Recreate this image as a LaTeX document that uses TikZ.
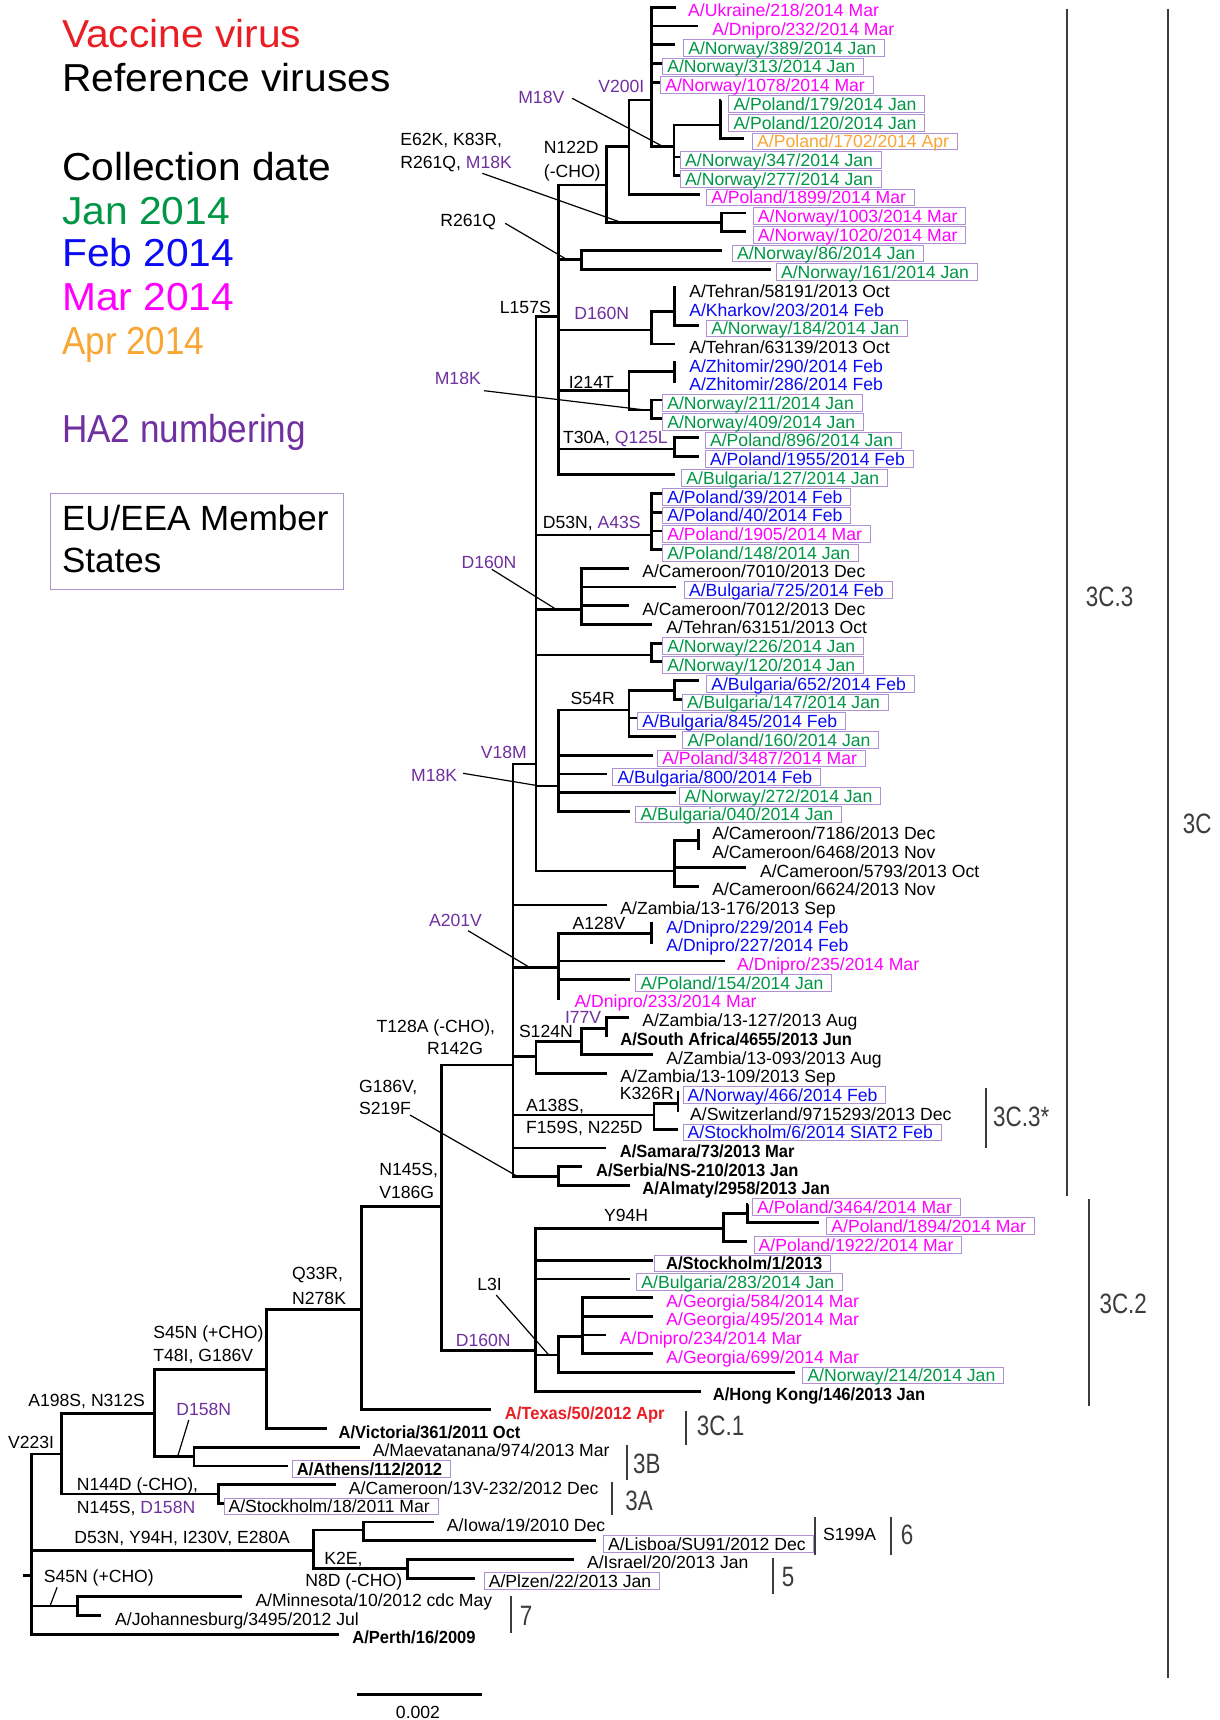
\documentclass[tikz,border=0pt]{standalone}
\usepackage{fontspec}
\setmainfont{Liberation Sans}
\newfontfamily\refbfont[FakeStretch=0.94]{Liberation Sans}
\usepackage{graphicx}
\definecolor{vgreen}{RGB}{0,150,70}
\definecolor{vblue}{RGB}{10,10,245}
\definecolor{vmag}{RGB}{255,0,255}
\definecolor{vorange}{RGB}{248,166,52}
\definecolor{vpurple}{RGB}{112,48,160}
\definecolor{vred}{RGB}{232,30,36}
\definecolor{boxpurple}{RGB}{175,145,210}
\definecolor{cladegray}{RGB}{60,60,60}
\newcommand{\cladetxt}[1]{\scalebox{0.8}[1]{#1}}
\newcommand{\widetxt}[1]{\scalebox{1.045}[1]{#1}}
\tikzset{
 tree/.style={line width=1.4pt, line join=miter, line cap=butt},
 ptr/.style={line width=0.6pt},
 leaf/.style={font=\fontsize{8.8}{9}\selectfont, anchor=west, inner xsep=2.3pt, inner ysep=0pt, text height=6.3pt, text depth=0pt, minimum height=8.35pt, yshift=-1.6pt},
 boxed/.style={draw=boxpurple, line width=0.5pt, execute at end node={\kern1.8pt}},
 refb/.style={font=\fontsize{8.8}{9}\selectfont\refbfont\bfseries},
 mut/.style={font=\fontsize{8.8}{9}\selectfont, anchor=west, inner sep=0pt, text height=6.3pt, text depth=0pt},
 legend/.style={font=\fontsize{19.5}{22}\selectfont, anchor=base west, inner sep=0pt},
 legendb/.style={font=\fontsize{17.5}{20}\selectfont, anchor=base west, inner sep=0pt},
 cbar/.style={line width=1pt, draw=cladegray},
 clade/.style={font=\fontsize{14}{16}\selectfont, text=cladegray, anchor=west, inner sep=0pt, text height=10pt, text depth=0pt},
}
\begin{document}
\begin{tikzpicture}[x=0.5pt,y=-0.5pt]
\fill[white] (0,0) rectangle (1220,1720);
\useasboundingbox (0,0) rectangle (1220,1720);

% ---------- legend ----------
\node[legend, text=vred] (lg1) at (61.7,47.8) {\widetxt{Vaccine virus}};
\node[legend] (lg2) at (61.7,91.8) {\widetxt{Reference viruses}};
\node[legend] (lg3) at (61.7,180) {\widetxt{Collection date}};
\node[legend, text=vgreen] (lg4) at (61.7,224) {\widetxt{Jan 2014}};
\node[legend, text=vblue] (lg5) at (61.7,266) {\widetxt{Feb 2014}};
\node[legend, text=vmag] (lg6) at (61.7,310) {\widetxt{Mar 2014}};
\node[legend, text=vorange] (lg7) at (61.7,354) {\scalebox{0.9}[1]{Apr 2014}};
\node[legend, text=vpurple] (lg8) at (61.7,442) {\scalebox{0.9}[1]{HA2 numbering}};
\draw[boxpurple, line width=0.6pt] (50.7,493.7) rectangle (343.3,589.4);
\node[legendb] (lg9) at (61.7,530) {EU/EEA Member};
\node[legendb] (lg10) at (61.7,572) {States};

% ---------- internal nodes ----------
\coordinate (nC) at (720.3,125);
\coordinate (nB) at (674,146.7);
\coordinate (nA) at (651.8,100);
\coordinate (nD) at (628.9,146.7);
\coordinate (nF) at (721.5,222.7);
\coordinate (nE) at (606.7,185);
\coordinate (nH) at (581.8,259.3);
\coordinate (nI1) at (674.8,311.7);
\coordinate (nI) at (651.8,330);
\coordinate (nJ1) at (674.8,371.7);
\coordinate (nJ2) at (651.8,410);
\coordinate (nJ) at (628.9,390.7);
\coordinate (nK) at (674.8,449);
\coordinate (nG) at (558.8,316.7);
\coordinate (nDN) at (651.8,535);
\coordinate (nN) at (581.8,609.3);
\coordinate (nNW) at (651.8,655);
\coordinate (nQ1) at (674.8,690.7);
\coordinate (nQ) at (628.9,710);
\coordinate (nP) at (558.8,786);
\coordinate (nR1) at (698.5,840.7);
\coordinate (nR) at (674.8,871);
\coordinate (nM) at (535.9,764);
\coordinate (nS1) at (651.8,933.3);
\coordinate (nS) at (558.8,967.7);
\coordinate (nW) at (606.7,1028.3);
\coordinate (nV) at (581.8,1041.7);
\coordinate (nU) at (535.9,1056.7);
\coordinate (nX1) at (677.9,1103.3);
\coordinate (nX) at (654,1115);
\coordinate (nSB) at (558.3,1176.7);
\coordinate (nO) at (512.9,1065);
\coordinate (nBB1) at (747.3,1213.3);
\coordinate (nBB) at (723.4,1228.3);
\coordinate (nLL1) at (582.2,1336.7);
\coordinate (nLL) at (558.3,1355);
\coordinate (nAA) at (535.4,1350.7);
\coordinate (nT) at (441.1,1206.7);
\coordinate (nZ) at (361.2,1309.3);
\coordinate (nAB) at (266.3,1369.3);
\coordinate (nDB) at (193.9,1456.7);
\coordinate (nAC) at (154.6,1413.3);
\coordinate (nA3) at (218.4,1494);
\coordinate (nAD) at (61.2,1454);
\coordinate (nAF1) at (363.3,1530);
\coordinate (nAF2) at (407.1,1568.3);
\coordinate (nAF) at (313.8,1550.7);
\coordinate (nAG) at (77.6,1606);
\coordinate (nAE) at (31.6,1575.7);
\coordinate (root) at (23,1575.7);

% ---------- tips ----------
\coordinate (t1) at (675.5,7.3);
\coordinate (t2) at (697.7,26.0);
\coordinate (t3) at (674.8,44.7);
\coordinate (t4) at (662.2,63.4);
\coordinate (t5) at (660.2,82.1);
\coordinate (t6) at (720.8,100.8);
\coordinate (t7) at (720.8,119.5);
\coordinate (t8) at (744.4,138.2);
\coordinate (t9) at (680,156.9);
\coordinate (t10) at (680,175.6);
\coordinate (t11) at (700.4,194.3);
\coordinate (t12) at (746.3,213.0);
\coordinate (t13) at (746.3,231.7);
\coordinate (t14) at (721.5,250.4);
\coordinate (t15) at (770.5,269.1);
\coordinate (t16) at (675.3,287.8);
\coordinate (t17) at (675.3,306.5);
\coordinate (t18) at (698.5,325.2);
\coordinate (t19) at (674.8,343.9);
\coordinate (t20) at (675.3,362.6);
\coordinate (t21) at (675.3,381.3);
\coordinate (t22) at (662.2,400.0);
\coordinate (t23) at (662.2,418.7);
\coordinate (t24) at (698.5,437.4);
\coordinate (t25) at (698.5,456.1);
\coordinate (t26) at (674.8,474.8);
\coordinate (t27) at (662.2,493.5);
\coordinate (t28) at (662.2,512.2);
\coordinate (t29) at (662.2,530.9);
\coordinate (t30) at (662.2,549.6);
\coordinate (t31) at (628.9,568.3);
\coordinate (t32) at (675.5,587.0);
\coordinate (t33) at (628.9,605.7);
\coordinate (t34) at (651.8,624.4);
\coordinate (t35) at (662.2,643.1);
\coordinate (t36) at (662.2,661.8);
\coordinate (t37) at (698.5,680.5);
\coordinate (t38) at (682,699.2);
\coordinate (t39) at (637.3,717.9);
\coordinate (t40) at (675.5,736.6);
\coordinate (t41) at (652.6,755.3);
\coordinate (t42) at (606.7,774.0);
\coordinate (t43) at (675.5,792.7);
\coordinate (t44) at (629.6,811.4);
\coordinate (t45) at (699,830.1);
\coordinate (t46) at (699,848.8);
\coordinate (t47) at (746.3,867.5);
\coordinate (t48) at (698.5,886.2);
\coordinate (t49) at (606.7,904.9);
\coordinate (t50) at (652.3,923.6);
\coordinate (t51) at (652.3,942.3);
\coordinate (t52) at (724.5,961.0);
\coordinate (t53) at (629.6,979.7);
\coordinate (t54) at (559.3,998.4);
\coordinate (t55) at (628.9,1017.1);
\coordinate (t56) at (607.2,1035.8);
\coordinate (t57) at (652.6,1054.5);
\coordinate (t58) at (606.7,1073.2);
\coordinate (t59) at (678.4,1091.9);
\coordinate (t60) at (678.4,1110.6);
\coordinate (t61) at (677.9,1129.3);
\coordinate (t62) at (606.1,1148.0);
\coordinate (t63) at (582.2,1166.7);
\coordinate (t64) at (630.1,1185.4);
\coordinate (t65) at (747.8,1204.1);
\coordinate (t66) at (819.1,1222.8);
\coordinate (t67) at (747.3,1241.5);
\coordinate (t68) at (653,1260.2);
\coordinate (t69) at (630.1,1278.9);
\coordinate (t70) at (653,1297.6);
\coordinate (t71) at (653,1316.3);
\coordinate (t72) at (606.1,1335.0);
\coordinate (t73) at (653,1353.7);
\coordinate (t74) at (795.2,1372.4);
\coordinate (t75) at (701,1391.1);
\coordinate (t76) at (490.8,1409.8);
\coordinate (t77) at (326.5,1428.5);
\coordinate (t78) at (359.7,1447.2);
\coordinate (t79) at (288.3,1465.9);
\coordinate (t80) at (335.7,1484.6);
\coordinate (t81) at (223.5,1503.3);
\coordinate (t82) at (433.7,1522.0);
\coordinate (t83) at (595.9,1540.7);
\coordinate (t84) at (574,1559.4);
\coordinate (t85) at (474.5,1578.1);
\coordinate (t86) at (242.3,1596.8);
\coordinate (t87) at (101,1615.5);
\coordinate (t88) at (339.3,1634.2);

% ---------- branches ----------
\draw[tree] (nC) |- (t6) (nC) |- (t7) (nC) |- (t8);
\draw[tree] (nB) |- (nC) (nB) |- (t9) (nB) |- (t10);
\draw[tree] (nA) |- (t1) (nA) |- (t2) (nA) |- (t3) (nA) |- (t4) (nA) |- (t5) (nA) |- (nB);
\draw[tree] (nD) |- (nA) (nD) |- (t11);
\draw[tree] (nF) |- (t12) (nF) |- (t13);
\draw[tree] (nE) |- (nD) (nE) |- (nF);
\draw[tree] (nH) |- (t14) (nH) |- (t15);
\draw[tree] (nI1) |- (t16) (nI1) |- (t17) (nI1) |- (t18);
\draw[tree] (nI) |- (nI1) (nI) |- (t19);
\draw[tree] (nJ1) |- (t20) (nJ1) |- (t21);
\draw[tree] (nJ2) |- (t22) (nJ2) |- (t23);
\draw[tree] (nJ) |- (nJ1) (nJ) |- (nJ2);
\draw[tree] (nK) |- (t24) (nK) |- (t25);
\draw[tree] (nG) |- (nE) (nG) |- (nH) (nG) |- (nI) (nG) |- (nJ) (nG) |- (nK) (nG) |- (t26);
\draw[tree] (nDN) |- (t27) (nDN) |- (t28) (nDN) |- (t29) (nDN) |- (t30);
\draw[tree] (nN) |- (t31) (nN) |- (t32) (nN) |- (t33) (nN) |- (t34);
\draw[tree] (nNW) |- (t35) (nNW) |- (t36);
\draw[tree] (nQ1) |- (t37) (nQ1) |- (t38);
\draw[tree] (nQ) |- (nQ1) (nQ) |- (t39) (nQ) |- (t40);
\draw[tree] (nP) |- (nQ) (nP) |- (t41) (nP) |- (t42) (nP) |- (t43) (nP) |- (t44);
\draw[tree] (nR1) |- (t45) (nR1) |- (t46);
\draw[tree] (nR) |- (nR1) (nR) |- (t47) (nR) |- (t48);
\draw[tree] (nM) |- (nG) (nM) |- (nDN) (nM) |- (nN) (nM) |- (nNW) (nM) |- (nP) (nM) |- (nR);
\draw[tree] (nS1) |- (t50) (nS1) |- (t51);
\draw[tree] (nS) |- (nS1) (nS) |- (t52) (nS) |- (t53) (nS) |- (t54);
\draw[tree] (nW) |- (t55) (nW) |- (t56);
\draw[tree] (nV) |- (nW) (nV) |- (t57);
\draw[tree] (nU) |- (nV) (nU) |- (t58);
\draw[tree] (nX1) |- (t59) (nX1) |- (t60);
\draw[tree] (nX) |- (nX1) (nX) |- (t61);
\draw[tree] (nSB) |- (t63) (nSB) |- (t64);
\draw[tree] (nO) |- (nM) (nO) |- (t49) (nO) |- (nS) (nO) |- (nU) (nO) |- (nX) (nO) |- (t62) (nO) |- (nSB);
\draw[tree] (nBB1) |- (t65) (nBB1) |- (t66);
\draw[tree] (nBB) |- (nBB1) (nBB) |- (t67);
\draw[tree] (nLL1) |- (t70) (nLL1) |- (t71) (nLL1) |- (t72) (nLL1) |- (t73);
\draw[tree] (nLL) |- (nLL1) (nLL) |- (t74);
\draw[tree] (nAA) |- (nBB) (nAA) |- (t68) (nAA) |- (t69) (nAA) |- (nLL) (nAA) |- (t75);
\draw[tree] (nT) |- (nO) (nT) |- (nAA);
\draw[tree] (nZ) |- (nT) (nZ) |- (t76);
\draw[tree] (nAB) |- (nZ) (nAB) |- (t77);
\draw[tree] (nDB) |- (t78) (nDB) |- (t79);
\draw[tree] (nAC) |- (nAB) (nAC) |- (nDB);
\draw[tree] (nA3) |- (t80) (nA3) |- (t81);
\draw[tree] (nAD) |- (nAC) (nAD) |- (nA3);
\draw[tree] (nAF1) |- (t82) (nAF1) |- (t83);
\draw[tree] (nAF2) |- (t84) (nAF2) |- (t85);
\draw[tree] (nAF) |- (nAF1) (nAF) |- (nAF2);
\draw[tree] (nAG) |- (t86) (nAG) |- (t87);
\draw[tree] (nAE) |- (nAD) (nAE) |- (nAF) (nAE) |- (nAG) (nAE) |- (t88);
\draw[tree] (root) -- (nAE);

% ---------- leaf labels ----------
\node[leaf, text=vmag] (l1) at (683.2,7.3) {A/Ukraine/218/2014 Mar};
\node[leaf, text=vmag] (l2) at (707.3,26.0) {A/Dnipro/232/2014 Mar};
\node[leaf, boxed, text=vgreen] (l3) at (683.2,44.7) {A/Norway/389/2014 Jan};
\node[leaf, boxed, text=vgreen] (l4) at (662.2,63.4) {A/Norway/313/2014 Jan};
\node[leaf, boxed, text=vmag] (l5) at (660.2,82.1) {A/Norway/1078/2014 Mar};
\node[leaf, boxed, text=vgreen] (l6) at (728.4,100.8) {A/Poland/179/2014 Jan};
\node[leaf, boxed, text=vgreen] (l7) at (728.4,119.5) {A/Poland/120/2014 Jan};
\node[leaf, boxed, text=vorange] (l8) at (752.1,138.2) {A/Poland/1702/2014 Apr};
\node[leaf, boxed, text=vgreen] (l9) at (680.1,156.9) {A/Norway/347/2014 Jan};
\node[leaf, boxed, text=vgreen] (l10) at (680.1,175.6) {A/Norway/277/2014 Jan};
\node[leaf, boxed, text=vmag] (l11) at (706.2,194.3) {A/Poland/1899/2014 Mar};
\node[leaf, boxed, text=vmag] (l12) at (752.8,213.0) {A/Norway/1003/2014 Mar};
\node[leaf, boxed, text=vmag] (l13) at (752.8,231.7) {A/Norway/1020/2014 Mar};
\node[leaf, boxed, text=vgreen] (l14) at (732,250.4) {A/Norway/86/2014 Jan};
\node[leaf, boxed, text=vgreen] (l15) at (776,269.1) {A/Norway/161/2014 Jan};
\node[leaf] (l16) at (684.3,287.8) {A/Tehran/58191/2013 Oct};
\node[leaf, text=vblue] (l17) at (684.3,306.5) {A/Kharkov/203/2014 Feb};
\node[leaf, boxed, text=vgreen] (l18) at (706.2,325.2) {A/Norway/184/2014 Jan};
\node[leaf] (l19) at (684.3,343.9) {A/Tehran/63139/2013 Oct};
\node[leaf, text=vblue] (l20) at (684.3,362.6) {A/Zhitomir/290/2014 Feb};
\node[leaf, text=vblue] (l21) at (684.3,381.3) {A/Zhitomir/286/2014 Feb};
\node[leaf, boxed, text=vgreen] (l22) at (662.2,400.0) {A/Norway/211/2014 Jan};
\node[leaf, boxed, text=vgreen] (l23) at (662.2,418.7) {A/Norway/409/2014 Jan};
\node[leaf, boxed, text=vgreen] (l24) at (705,437.4) {A/Poland/896/2014 Jan};
\node[leaf, boxed, text=vblue] (l25) at (705,456.1) {A/Poland/1955/2014 Feb};
\node[leaf, boxed, text=vgreen] (l26) at (681.3,474.8) {A/Bulgaria/127/2014 Jan};
\node[leaf, boxed, text=vblue] (l27) at (662.2,493.5) {A/Poland/39/2014 Feb};
\node[leaf, boxed, text=vblue] (l28) at (662.2,512.2) {A/Poland/40/2014 Feb};
\node[leaf, boxed, text=vmag] (l29) at (662.2,530.9) {A/Poland/1905/2014 Mar};
\node[leaf, boxed, text=vgreen] (l30) at (662.2,549.6) {A/Poland/148/2014 Jan};
\node[leaf] (l31) at (637.3,568.3) {A/Cameroon/7010/2013 Dec};
\node[leaf, boxed, text=vblue] (l32) at (684,587.0) {A/Bulgaria/725/2014 Feb};
\node[leaf] (l33) at (637.3,605.7) {A/Cameroon/7012/2013 Dec};
\node[leaf] (l34) at (661.4,624.4) {A/Tehran/63151/2013 Oct};
\node[leaf, boxed, text=vgreen] (l35) at (662.2,643.1) {A/Norway/226/2014 Jan};
\node[leaf, boxed, text=vgreen] (l36) at (662.2,661.8) {A/Norway/120/2014 Jan};
\node[leaf, boxed, text=vblue] (l37) at (706.2,680.5) {A/Bulgaria/652/2014 Feb};
\node[leaf, boxed, text=vgreen] (l38) at (682,699.2) {A/Bulgaria/147/2014 Jan};
\node[leaf, boxed, text=vblue] (l39) at (637.3,717.9) {A/Bulgaria/845/2014 Feb};
\node[leaf, boxed, text=vgreen] (l40) at (682.4,736.6) {A/Poland/160/2014 Jan};
\node[leaf, boxed, text=vmag] (l41) at (657.2,755.3) {A/Poland/3487/2014 Mar};
\node[leaf, boxed, text=vblue] (l42) at (612.4,774.0) {A/Bulgaria/800/2014 Feb};
\node[leaf, boxed, text=vgreen] (l43) at (679.4,792.7) {A/Norway/272/2014 Jan};
\node[leaf, boxed, text=vgreen] (l44) at (635.4,811.4) {A/Bulgaria/040/2014 Jan};
\node[leaf] (l45) at (707.3,830.1) {A/Cameroon/7186/2013 Dec};
\node[leaf] (l46) at (707.3,848.8) {A/Cameroon/6468/2013 Nov};
\node[leaf] (l47) at (755.1,867.5) {A/Cameroon/5793/2013 Oct};
\node[leaf] (l48) at (707.3,886.2) {A/Cameroon/6624/2013 Nov};
\node[leaf] (l49) at (615.4,904.9) {A/Zambia/13-176/2013 Sep};
\node[leaf, text=vblue] (l50) at (661.4,923.6) {A/Dnipro/229/2014 Feb};
\node[leaf, text=vblue] (l51) at (661.4,942.3) {A/Dnipro/227/2014 Feb};
\node[leaf, text=vmag] (l52) at (732.2,961.0) {A/Dnipro/235/2014 Mar};
\node[leaf, boxed, text=vgreen] (l53) at (635.4,979.7) {A/Poland/154/2014 Jan};
\node[leaf, text=vmag] (l54) at (569.5,998.4) {A/Dnipro/233/2014 Mar};
\node[leaf] (l55) at (637.3,1017.1) {A/Zambia/13-127/2013 Aug};
\node[leaf, refb] (l56) at (615.4,1035.8) {A/South Africa/4655/2013 Jun};
\node[leaf] (l57) at (661.4,1054.5) {A/Zambia/13-093/2013 Aug};
\node[leaf] (l58) at (615.4,1073.2) {A/Zambia/13-109/2013 Sep};
\node[leaf, boxed, text=vblue] (l59) at (682.6,1091.9) {A/Norway/466/2014 Feb};
\node[leaf] (l60) at (685.2,1110.6) {A/Switzerland/9715293/2013 Dec};
\node[leaf, boxed, text=vblue] (l61) at (682.6,1129.3) {A/Stockholm/6/2014 SIAT2 Feb};
\node[leaf, refb] (l62) at (614.9,1148.0) {A/Samara/73/2013 Mar};
\node[leaf, refb] (l63) at (591.1,1166.7) {A/Serbia/NS-210/2013 Jan};
\node[leaf, refb] (l64) at (637.4,1185.4) {A/Almaty/2958/2013 Jan};
\node[leaf, boxed, text=vmag] (l65) at (752.1,1204.1) {A/Poland/3464/2014 Mar};
\node[leaf, boxed, text=vmag] (l66) at (826.3,1222.8) {A/Poland/1894/2014 Mar};
\node[leaf, boxed, text=vmag] (l67) at (753.6,1241.5) {A/Poland/1922/2014 Mar};
\node[leaf, boxed, refb] (l68) at (654,1260.2) {\kern3.5pt A/Stockholm/1/2013};
\node[leaf, boxed, text=vgreen] (l69) at (636.3,1278.9) {A/Bulgaria/283/2014 Jan};
\node[leaf, text=vmag] (l70) at (661.4,1297.6) {A/Georgia/584/2014 Mar};
\node[leaf, text=vmag] (l71) at (661.4,1316.3) {A/Georgia/495/2014 Mar};
\node[leaf, text=vmag] (l72) at (614.9,1335.0) {A/Dnipro/234/2014 Mar};
\node[leaf, text=vmag] (l73) at (661.4,1353.7) {A/Georgia/699/2014 Mar};
\node[leaf, boxed, text=vgreen] (l74) at (802.4,1372.4) {A/Norway/214/2014 Jan};
\node[leaf, refb] (l75) at (707.8,1391.1) {A/Hong Kong/146/2013 Jan};
\node[leaf, refb, text=vred] (l76) at (499.9,1409.8) {A/Texas/50/2012 Apr};
\node[leaf, refb] (l77) at (333.7,1428.5) {A/Victoria/361/2011 Oct};
\node[leaf] (l78) at (367.8,1447.2) {A/Maevatanana/974/2013 Mar};
\node[leaf, boxed, refb] (l79) at (291.8,1465.9) {A/Athens/112/2012};
\node[leaf] (l80) at (343.9,1484.6) {A/Cameroon/13V-232/2012 Dec};
\node[leaf, boxed] (l81) at (223.5,1503.3) {A/Stockholm/18/2011 Mar};
\node[leaf] (l82) at (441.8,1522.0) {A/Iowa/19/2010 Dec};
\node[leaf, boxed] (l83) at (603,1540.7) {A/Lisboa/SU91/2012 Dec};
\node[leaf] (l84) at (582.1,1559.4) {A/Israel/20/2013 Jan};
\node[leaf, boxed] (l85) at (483.7,1578.1) {A/Plzen/22/2013 Jan};
\node[leaf] (l86) at (250.5,1596.8) {A/Minnesota/10/2012 cdc May};
\node[leaf] (l87) at (110.2,1615.5) {A/Johannesburg/3495/2012 Jul};
\node[leaf, refb] (l88) at (347.4,1634.2) {A/Perth/16/2009};

% ---------- mutation labels ----------
\node[mut, text=vpurple] (mV200I) at (597.9,85.8) {V200I};
\node[mut, text=vpurple] (mM18V) at (517.9,97.5) {M18V};
\node[mut] (mE62K) at (400,139) {E62K, K83R,};
\node[mut] (mR261Qb) at (400,162.5) {R261Q, \textcolor{vpurple}{M18K}};
\node[mut] (mN122D) at (543.5,147.5) {N122D};
\node[mut] (mCHO1) at (543.5,171.5) {(-CHO)};
\node[mut] (mR261Q) at (440,220.5) {R261Q};
\node[mut] (mL157S) at (499.5,306.7) {L157S};
\node[mut, text=vpurple] (mD160Na) at (574,313.3) {D160N};
\node[mut, text=vpurple] (mM18Ka) at (434.4,378.3) {M18K};
\node[mut] (mI214T) at (568.4,381.7) {I214T};
\node[mut] (mT30A) at (562.6,436.7) {T30A, \textcolor{vpurple}{Q125L}};
\node[mut] (mD53N) at (542.4,522.5) {D53N, \textcolor{vpurple}{A43S}};
\node[mut, text=vpurple] (mD160Nb) at (461.2,561.7) {D160N};
\node[mut] (mS54R) at (570.3,698.3) {S54R};
\node[mut, text=vpurple] (mV18M) at (480.4,751.7) {V18M};
\node[mut, text=vpurple] (mM18Kb) at (410.7,775) {M18K};
\node[mut, text=vpurple] (mA201V) at (428.7,920) {A201V};
\node[mut] (mA128V) at (572.2,923.3) {A128V};
\node[mut] (mT128A) at (376.3,1026) {T128A (-CHO),};
\node[mut] (mR142G) at (426.8,1048.3) {R142G};
\node[mut] (mS124N) at (518.6,1030.8) {S124N};
\node[mut, text=vpurple] (mI77V) at (564.6,1016.7) {I77V};
\node[mut] (mG186V) at (358.7,1086) {G186V,};
\node[mut] (mS219F) at (358.7,1108.3) {S219F};
\node[mut] (mK326R) at (619.5,1093.3) {K326R};
\node[mut] (mA138S) at (525.8,1105) {A138S,};
\node[mut] (mF159S) at (525.8,1127.5) {F159S, N225D};
\node[mut] (mN145S) at (379,1169.5) {N145S,};
\node[mut] (mV186G) at (379,1192.5) {V186G};
\node[mut] (mY94H) at (603.7,1215) {Y94H};
\node[mut] (mL3I) at (477,1284) {L3I};
\node[mut, text=vpurple] (mD160Nc) at (455.5,1340) {D160N};
\node[mut] (mQ33R) at (291.8,1273.6) {Q33R,};
\node[mut] (mN278K) at (291.8,1297.8) {N278K};
\node[mut] (mS45Na) at (153,1332.5) {S45N (+CHO),};
\node[mut] (mT48I) at (153,1355.5) {T48I, G186V};
\node[mut] (mA198S) at (28,1400) {A198S, N312S};
\node[mut, text=vpurple] (mD158Na) at (176,1409) {D158N};
\node[mut] (mV223I) at (7.7,1442.5) {V223I};
\node[mut] (mN144D) at (76.5,1484.2) {N144D (-CHO),};
\node[mut] (mN145Sb) at (76.5,1507) {N145S, \textcolor{vpurple}{D158N}};
\node[mut] (mD53Nb) at (74,1537.5) {D53N, Y94H, I230V, E280A};
\node[mut] (mK2E) at (324,1558) {K2E,};
\node[mut] (mN8D) at (305,1580.5) {N8D (-CHO)};
\node[mut] (mS45Nb) at (43.4,1576) {S45N (+CHO)};

% ---------- pointer lines ----------
\coordinate (pa1) at (572.2,98.3);  \coordinate (pa2) at (663.3,146.7);
\coordinate (pb1) at (482.3,173.3); \coordinate (pb2) at (622,222.7);
\coordinate (pc1) at (505.2,223.3); \coordinate (pc2) at (566.5,259.3);
\coordinate (pd1) at (484.2,390.7); \coordinate (pd2) at (645,410);
\coordinate (pe1) at (491.8,569.3); \coordinate (pe2) at (556.1,609.3);
\coordinate (pf1) at (463.1,773.3); \coordinate (pf2) at (540,786);
\coordinate (pg1) at (468.1,930.7); \coordinate (pg2) at (530.1,967.7);
\coordinate (ph1) at (410,1115);    \coordinate (ph2) at (518,1176.7);
\coordinate (pi1) at (496.2,1295);  \coordinate (pi2) at (548.8,1355);
\coordinate (pj1) at (188.8,1420);  \coordinate (pj2) at (177.6,1456.7);
\coordinate (pk1) at (57.1,1587.3); \coordinate (pk2) at (50,1606);
\draw[ptr] (pa1) -- (pa2);
\draw[ptr] (pb1) -- (pb2);
\draw[ptr] (pc1) -- (pc2);
\draw[ptr] (pd1) -- (pd2);
\draw[ptr] (pe1) -- (pe2);
\draw[ptr] (pf1) -- (pf2);
\draw[ptr] (pg1) -- (pg2);
\draw[ptr] (ph1) -- (ph2);
\draw[ptr] (pi1) -- (pi2);
\draw[ptr] (pj1) -- (pj2);
\draw[ptr] (pk1) -- (pk2);

% ---------- clade bars ----------
\coordinate (b1a) at (985.6,1088);   \coordinate (b1b) at (985.6,1147.5);
\coordinate (b2a) at (1067.3,8.8);   \coordinate (b2b) at (1067.3,1195.7);
\coordinate (b3a) at (1088.6,1199);  \coordinate (b3b) at (1088.6,1406.4);
\coordinate (b4a) at (1168.3,8.8);   \coordinate (b4b) at (1168.3,1678.4);
\coordinate (b5a) at (686.2,1411);   \coordinate (b5b) at (686.2,1445);
\coordinate (b6a) at (626.5,1445);   \coordinate (b6b) at (626.5,1480);
\coordinate (b7a) at (612.2,1481.7); \coordinate (b7b) at (612.2,1515);
\coordinate (b8a) at (815,1517);     \coordinate (b8b) at (815,1555);
\coordinate (b9a) at (891,1517);     \coordinate (b9b) at (891,1555);
\coordinate (b10a) at (773,1558.3);  \coordinate (b10b) at (773,1594);
\coordinate (b11a) at (511.2,1596);  \coordinate (b11b) at (511.2,1632.7);
\draw[cbar] (b1a) -- (b1b);
\draw[cbar] (b2a) -- (b2b);
\draw[cbar] (b3a) -- (b3b);
\draw[cbar] (b4a) -- (b4b);
\draw[cbar] (b5a) -- (b5b);
\draw[cbar] (b6a) -- (b6b);
\draw[cbar] (b7a) -- (b7b);
\draw[cbar] (b8a) -- (b8b);
\draw[cbar] (b9a) -- (b9b);
\draw[cbar] (b10a) -- (b10b);
\draw[cbar] (b11a) -- (b11b);
\node[clade] (c33s) at (992.8,1116.7) {\cladetxt{3C.3*}};
\node[clade] (c33) at (1085.5,596.8) {\cladetxt{3C.3}};
\node[clade] (c32) at (1099.2,1303.2) {\cladetxt{3C.2}};
\node[clade] (c3) at (1182.4,823.8) {\cladetxt{3C}};
\node[clade] (c31) at (696.5,1425) {\cladetxt{3C.1}};
\node[clade] (c3b) at (632.7,1463) {\cladetxt{3B}};
\node[clade] (c3a) at (625,1500) {\cladetxt{3A}};
\node[mut] (s199) at (822.8,1534.5) {S199A};
\node[clade] (c6) at (900.5,1534.5) {\cladetxt{6}};
\node[clade] (c5) at (781.5,1576) {\cladetxt{5}};
\node[clade] (c7) at (519.4,1615) {\cladetxt{7}};

% ---------- scale bar ----------
\coordinate (sb1) at (357.1,1694.3);
\coordinate (sb2) at (482.1,1694.3);
\draw[tree] (sb1) -- (sb2);
\node[mut, anchor=center] (sbl) at (418,1712) {0.002};
\end{tikzpicture}
\end{document}
